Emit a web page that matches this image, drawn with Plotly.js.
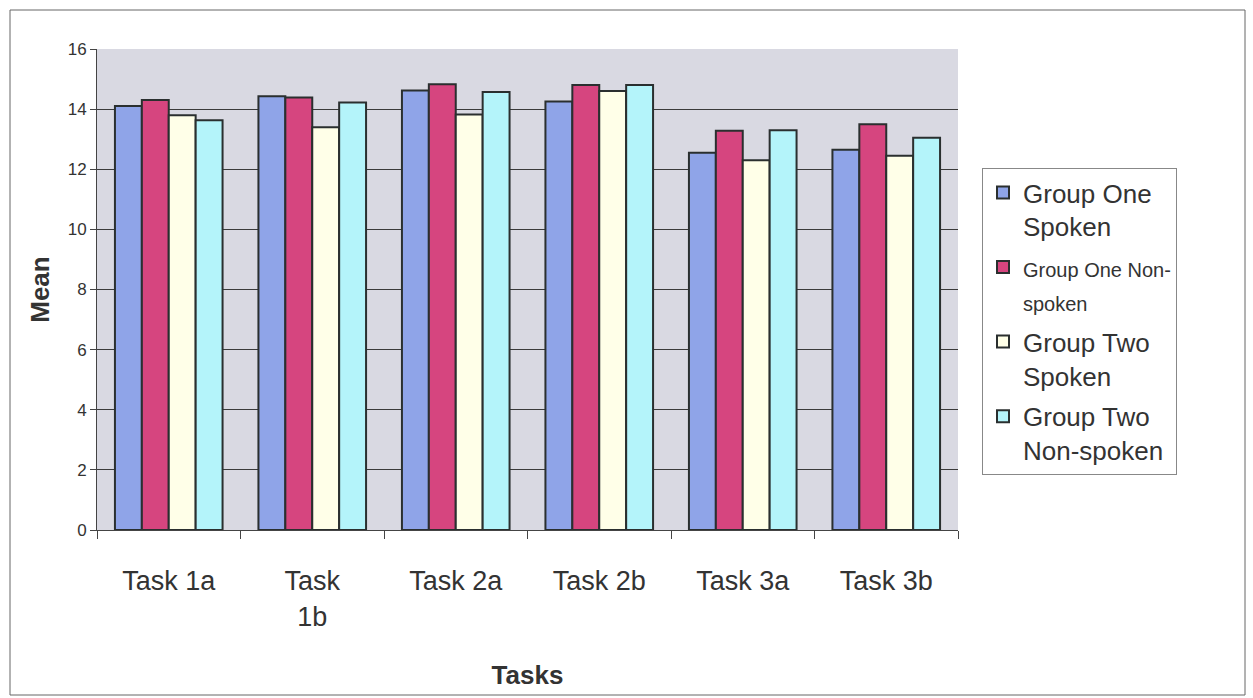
<!DOCTYPE html>
<html><head><meta charset="utf-8">
<script src="https://cdn.plot.ly/plotly-3.0.1.min.js"></script>
<style>body{margin:0;background:#fff}#c{width:1253px;height:698px}</style>
</head><body><div id="c"></div>
<script>
const categories = ["Task 1a", "Task<br>1b", "Task 2a", "Task 2b", "Task 3a", "Task 3b"];
const seriesNames = ["Group One<br>Spoken", "<span style=\"font-size:20px\">Group One Non-<br>spoken</span>", "Group Two<br>Spoken", "Group Two<br>Non-spoken"];
const groupOneSpoken = [14.1, 14.43, 14.62, 14.25, 12.55, 12.65];
const groupOneNonSpoken = [14.3, 14.39, 14.83, 14.8, 13.28, 13.5];
const groupTwoSpoken = [13.8, 13.4, 13.82, 14.6, 12.3, 12.45];
const groupTwoNonSpoken = [13.63, 14.22, 14.57, 14.8, 13.3, 13.05];
const colors = ["#8fa4e8", "#d6457f", "#ffffe8", "#b4f4fa"];
const values = [groupOneSpoken, groupOneNonSpoken, groupTwoSpoken, groupTwoNonSpoken];
const traces = values.map((v, i) => ({
  type: "bar", x: categories, y: v, name: seriesNames[i], legendgroup: "g" + i,
  marker: {color: colors[i], line: {color: "#2a2f2f", width: 2}}
}));
const W = 1253, H = 698, L = 97, R = 295, T = 49, B = 168;
const pw = W - L - R, ph = H - T - B;
const layout = {
  width: W, height: H,
  margin: {l: L, r: R, t: T, b: B},
  paper_bgcolor: "#ffffff", plot_bgcolor: "#d9d9e2",
  font: {family: "Liberation Sans, Arial, sans-serif", color: "#333"},
  barmode: "group", bargap: 0.25, bargroupgap: 0,
  showlegend: true,
  legend: {x: (982 - L) / pw, xanchor: "left", y: (H - B - 168) / ph, yanchor: "top",
    bgcolor: "#fff", bordercolor: "#888", borderwidth: 1,
    font: {size: 26, color: "#333"}, valign: "top", tracegroupgap: 4},
  xaxis: {type: "category", tickson: "boundaries", ticks: "outside", ticklen: 8, tickcolor: "#444",
    showline: true, linecolor: "#444", linewidth: 1, showgrid: false,
    ticklabelstandoff: 27,
    tickfont: {size: 27, color: "#333"},
    title: {text: "<b>Tasks</b>", font: {size: 26, color: "#333"}, standoff: 35}},
  yaxis: {range: [0, 16], dtick: 2, ticks: "outside", ticklen: 6, tickcolor: "#444",
    showline: true, linecolor: "#444", gridcolor: "#3a3a3a", gridwidth: 1, zeroline: false,
    tickfont: {size: 17, color: "#333"},
    title: {text: "<b>Mean</b>", font: {size: 26, color: "#333"}, standoff: 10}},
  shapes: [{type: "rect", xref: "paper", yref: "paper",
    x0: (10 - L) / pw, x1: (1245 - L) / pw, y0: -(695 - (H - B)) / ph, y1: 1 + (T - 10) / ph,
    line: {color: "#666", width: 1}, fillcolor: "rgba(0,0,0,0)", layer: "below"}]
};
Plotly.newPlot("c", traces, layout, {displayModeBar: false, staticPlot: true});
</script></body></html>
